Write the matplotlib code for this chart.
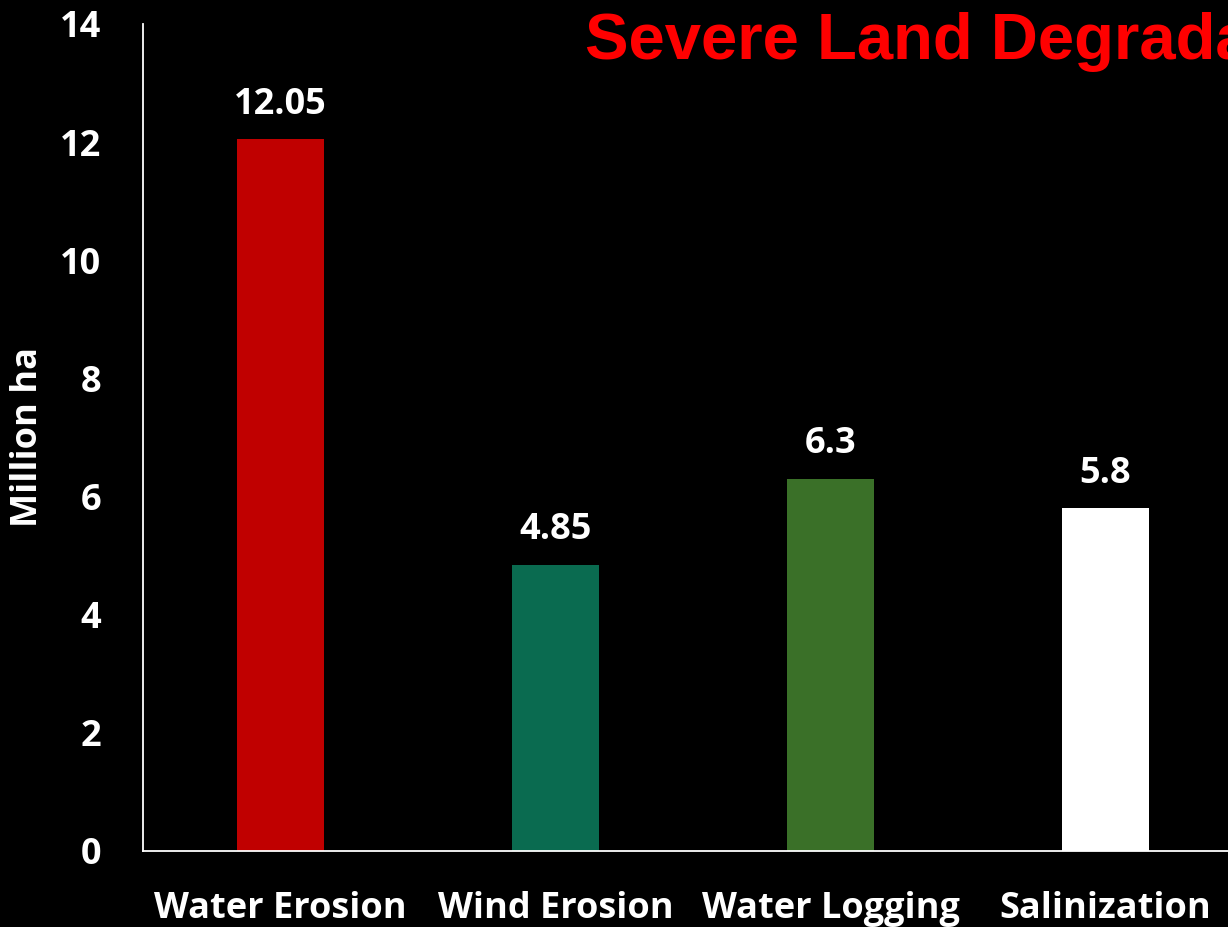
import matplotlib.pyplot as plt

categories = ['Water Erosion', 'Wind Erosion', 'Water Logging', 'Salinization']
values = [12.05, 4.85, 6.3, 5.8]
value_labels = ['12.05', '4.85', '6.3', '5.8']
bar_colors = ['#C00000', '#0A6B50', '#3A7028', '#FFFFFF']
yticks = [0, 2, 4, 6, 8, 10, 12, 14]

font = 'Open Sans'

fig = plt.figure(figsize=(12.28, 9.27), dpi=100, facecolor='black')
# axes run past the right edge of the figure, the slide is cut off there
ax = fig.add_axes([143/1228, 76/927, 5*275/1228, 827/927], facecolor='black')

x = range(len(categories))
ax.bar(x, values, width=0.316, color=bar_colors, zorder=2)
for xi, v, lab in zip(x, values, value_labels):
    ax.annotate(lab, (xi, v), xytext=(0, 12), textcoords='offset points',
                ha='center', va='bottom', color='white', fontsize=26,
                fontweight='bold', family=font)

ax.set_xlim(-0.5, 4.5)
ax.set_ylim(0, 14)
ax.set_yticks(yticks)
ax.set_yticklabels([str(t) for t in yticks], color='white', fontsize=26,
                   fontweight='bold', family=font)
ax.set_xticks(list(x))
ax.set_xticklabels(categories, color='white', fontsize=26,
                   fontweight='bold', family=font)
ax.tick_params(axis='both', length=0)
ax.tick_params(axis='y', pad=30)
ax.tick_params(axis='x', pad=29)

for side in ['top', 'right']:
    ax.spines[side].set_visible(False)
for side in ['left', 'bottom']:
    ax.spines[side].set_color('white')
    ax.spines[side].set_linewidth(1.3)

fig.text(28/1228, 1 - 437/927, 'Million ha', rotation=90, ha='center',
         va='center', color='white', fontsize=26, fontweight='bold',
         family=font)

fig.text(585/1228, 1 - 42/927, 'Severe Land Degradation', ha='left',
         va='center', color='#FF0000', fontsize=47, fontweight='bold',
         family=['Liberation Sans Narrow', 'Liberation Sans'],
         fontstretch='condensed')

fig.savefig('out.png', dpi=100, facecolor='black')
